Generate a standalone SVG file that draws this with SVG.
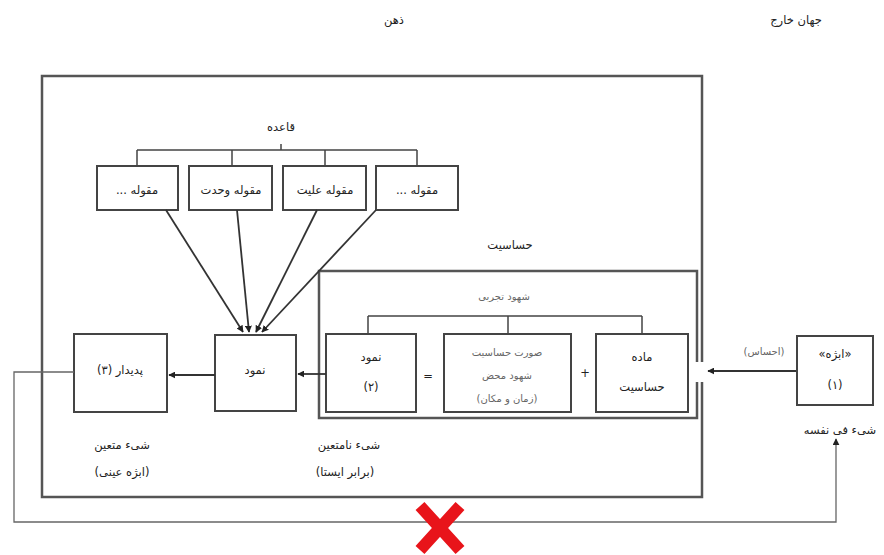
<svg xmlns="http://www.w3.org/2000/svg" width="884" height="555" viewBox="0 0 884 555">
<defs>
<marker id="ah" viewBox="0 0 10 10" refX="9" refY="5" markerWidth="7" markerHeight="7" orient="auto" markerUnits="userSpaceOnUse">
<path d="M0,0 L10,5 L0,10 z" fill="#222"/>
</marker>
<style>
text{font-family:"DejaVu Sans","Noto Sans",sans-serif;fill:#222;text-anchor:middle;direction:rtl;font-size:11.5px}
.box{fill:#fff;stroke:#444;stroke-width:2}
.frame{fill:none;stroke:#555;stroke-width:2.5}
.ln{fill:none;stroke:#444;stroke-width:1.5}
.con{fill:none;stroke:#333;stroke-width:1.8}
.thin{fill:none;stroke:#666;stroke-width:1.3}
.gray{fill:#666;font-size:10px}
</style>
</defs>
<rect width="884" height="555" fill="#fff"/>

<g id="titles">
<text x="394" y="24" font-size="12.5">ذهن</text>
<text x="796" y="24" font-size="12.5">جهان خارج</text>
</g>

<g id="mind">
<rect class="frame" x="42" y="76" width="660" height="421"/>
</g>

<g id="sensibility">
<text x="510" y="249" font-size="12.5">حساسیت</text>
<rect class="frame" x="319" y="271" width="378" height="147" stroke-width="2"/>
<text x="504" y="300" class="gray">شهود تجربی</text>
</g>

<g id="rule-bracket">
<text x="281" y="131" font-size="12.5">قاعده</text>
<path class="ln" d="M281,144 V150 M137,150 H417 M137,150 V166 M232,150 V166 M325,150 V166 M417,150 V166"/>
</g>

<g id="intuition-bracket">
<path class="ln" d="M368,316 H642 M368,316 V334 M508,316 V334 M642,316 V334"/>
</g>

<g id="cat4">
<rect class="box" x="97" y="166" width="81" height="44"/>
<text x="137" y="194">مقوله ...</text>
</g>
<g id="cat3">
<rect class="box" x="189" y="166" width="83" height="44"/>
<text x="231" y="194">مقوله وحدت</text>
</g>
<g id="cat2">
<rect class="box" x="283" y="166" width="83" height="44"/>
<text x="325" y="194">مقوله علیت</text>
</g>
<g id="cat1">
<rect class="box" x="376" y="166" width="82" height="44"/>
<text x="417" y="194">مقوله ...</text>
</g>

<g id="appearance-main">
<rect class="box" x="215" y="335" width="81" height="76"/>
<text x="255" y="374">نمود</text>
</g>

<g id="phenomenon">
<rect class="box" x="74" y="334" width="93" height="78" stroke="#666"/>
<text x="120" y="374">پدیدار (۳)</text>
</g>

<g id="appearance2">
<rect class="box" x="326" y="334" width="90" height="78"/>
<text x="371" y="361">نمود</text>
<text x="371" y="391">(۲)</text>
</g>

<g id="pure-intuition">
<rect class="box" x="444" y="334" width="127" height="78"/>
<text x="507" y="356" class="gray" font-size="9.5">صورت حساسیت</text>
<text x="507" y="379" class="gray" font-size="9.5">شهود محض</text>
<text x="507" y="402" class="gray" font-size="9.5">(زمان و مکان)</text>
</g>

<g id="matter">
<rect class="box" x="596" y="334" width="92" height="78"/>
<text x="642" y="361">ماده</text>
<text x="642" y="391">حساسیت</text>
</g>

<g id="operators">
<text x="428" y="380" font-size="11" fill="#555">=</text>
<text x="585" y="377" font-size="11" fill="#555">+</text>
</g>

<g id="object">
<rect class="box" x="797" y="336" width="76" height="69" stroke="#555"/>
<text x="835" y="358">«ابژه»</text>
<text x="835" y="389">(۱)</text>
<text x="840" y="434" font-size="12">شیء فی نفسه</text>
</g>

<g id="labels">
<text x="122" y="449">شیء متعین</text>
<text x="122" y="476">(ابژه عینی)</text>
<text x="349" y="449">شیء نامتعین</text>
<text x="345" y="476">(برابر ایستا)</text>
<text x="764" y="355" class="gray" font-size="8">(احساس)</text>
</g>

<g id="connectors">
<rect x="692" y="362" width="16" height="20" fill="#fff"/>
<line class="con" x1="796" y1="371" x2="708" y2="371" marker-end="url(#ah)"/>
<line class="con" x1="326" y1="374" x2="298" y2="374" marker-end="url(#ah)"/>
<line class="con" x1="215" y1="375" x2="169" y2="375" marker-end="url(#ah)"/>
<line class="con" x1="166" y1="210" x2="243" y2="332" marker-end="url(#ah)"/>
<line class="con" x1="237" y1="210" x2="249" y2="332" marker-end="url(#ah)"/>
<line class="con" x1="317" y1="210" x2="256" y2="332" marker-end="url(#ah)"/>
<line class="con" x1="376" y1="210" x2="262" y2="332" marker-end="url(#ah)"/>
<path class="thin" d="M74,372 H14 V522 H836 V439" marker-end="url(#ah)"/>
</g>

<g id="cross">
<path d="M420,506 L460,550 M460,506 L420,550" stroke="#e8141a" stroke-width="12" stroke-linecap="butt" fill="none"/>
</g>
</svg>
